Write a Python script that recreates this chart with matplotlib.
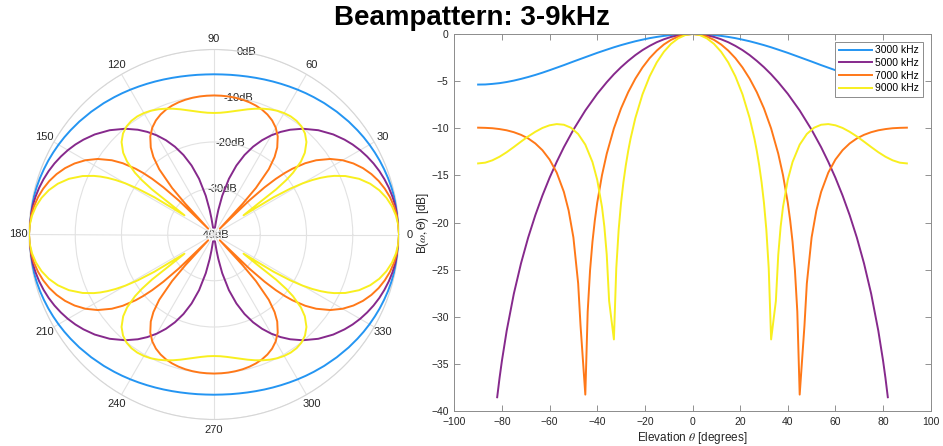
import numpy as np
import matplotlib.pyplot as plt

plt.rcParams['font.family'] = ['Liberation Sans', 'DejaVu Sans']
plt.rcParams['mathtext.fontset'] = 'stix'

# Beam response B(w, theta) in dB over elevation 0..90 deg (pattern is symmetric in theta).
# Points under the -40 dB floor are not stored.
elev3k = [0, 3, 6, 9, 12, 15, 18, 21, 24, 27, 30, 33, 36, 40, 45, 50, 54, 57,
          60, 63, 66, 69, 72, 75, 78, 81, 84, 87, 90]
db3k = [0.00, -0.01, -0.05, -0.11, -0.20, -0.31, -0.44, -0.60, -0.77, -0.97,
        -1.18, -1.41, -1.66, -2.00, -2.46, -2.92, -3.30, -3.57, -3.84, -4.10,
        -4.34, -4.56, -4.76, -4.94, -5.09, -5.21, -5.29, -5.35, -5.36]

elev5k = [0, 3, 6, 9, 12, 15, 18, 21, 24, 27, 30, 33, 36, 40, 45, 50, 54, 57,
          60, 63, 66, 69, 72, 75, 78, 80, 81, 82]
db5k = [0.00, -0.03, -0.14, -0.31, -0.56, -0.87, -1.26, -1.71, -2.24, -2.85,
        -3.52, -4.27, -5.11, -6.34, -8.11, -10.15, -12.00, -13.55, -15.24,
        -17.12, -19.22, -21.59, -24.32, -27.53, -31.45, -34.63, -36.46, -38.51]

elev7k = [0, 3, 6, 9, 12, 15, 18, 21, 24, 27, 30, 33, 36, 38, 40, 41, 42, 43,
          44, 45, 47, 48, 50, 52, 54, 57, 60, 63, 66, 69, 72, 75, 78, 81, 84,
          87, 90]
db7k = [0.00, -0.07, -0.27, -0.62, -1.11, -1.76, -2.56, -3.55, -4.74, -6.17,
        -7.89, -10.01, -12.69, -14.97, -17.89, -19.75, -22.03, -25.03, -29.43,
        -38.23, -30.92, -26.45, -21.57, -18.71, -16.74, -14.70, -13.31, -12.32,
        -11.60, -11.07, -10.69, -10.41, -10.21, -10.08, -9.99, -9.95, -9.93]

elev9k = [0, 3, 6, 9, 12, 15, 18, 21, 24, 26, 27, 28, 29, 30, 31, 32, 33, 35,
          36, 37, 38, 40, 42, 45, 48, 51, 54, 57, 60, 63, 66, 69, 72, 75, 78,
          81, 84, 87, 90]
db9k = [0.00, -0.11, -0.46, -1.04, -1.88, -3.01, -4.49, -6.40, -8.92, -11.09,
        -12.40, -13.92, -15.71, -17.90, -20.75, -24.84, -32.38, -28.31, -23.41,
        -20.43, -18.33, -15.46, -13.57, -11.73, -10.60, -9.94, -9.62, -9.55,
        -9.68, -9.96, -10.37, -10.86, -11.41, -11.98, -12.53, -13.01, -13.39,
        -13.64, -13.72]

labels = ['3000 kHz', '5000 kHz', '7000 kHz', '9000 kHz']
colors = ['#2495f2', '#86298c', '#ff7818', '#f8ef1f']
series = [(elev3k, db3k), (elev5k, db5k), (elev7k, db7k), (elev9k, db9k)]

r_ticks = [-40, -30, -20, -10, 0]
r_labels = ['-40dB', '-30dB', '-20dB', '-10dB', '0dB']


def full_elevation(e, b):
    # mirror the 0..90 half onto -90..90
    x = [-a for a in e[:0:-1]] + list(e)
    y = list(b[:0:-1]) + list(b)
    return np.array(x), np.array(y)


def full_circle(e, b):
    # response only depends on sin(angle), so one quadrant gives all four
    e = list(e)
    b = list(b)
    phi = e + [180 - a for a in e[::-1]] + [180 + a for a in e] + [360 - a for a in e[::-1]]
    r = b + b[::-1] + b + b[::-1]
    return np.deg2rad(phi), np.array(r)


fig = plt.figure(figsize=(9.43, 4.46), dpi=100)
fig.text(0.5, 1 - 18 / 446, 'Beampattern: 3-9kHz', ha='center', va='center',
         fontsize=20, fontweight='bold')

text_col = '#262626'
grid_col = '#e2e2e2'

# polar view
axp = fig.add_axes([29 / 943, 26.5 / 446, 370 / 943, 370 / 446], projection='polar')
axp.set_theta_zero_location('E')
axp.set_rlim(-40, 0)
axp.set_rticks(r_ticks)
axp.set_yticklabels([])
axp.set_thetagrids(np.arange(0, 360, 30), labels=[str(a) for a in range(0, 360, 30)])
axp.tick_params(axis='x', labelsize=8, colors=text_col, pad=-3)
axp.grid(True, color=grid_col, linewidth=0.8)
axp.spines['polar'].set_color('#d6d6d6')
axp.spines['polar'].set_linewidth(0.8)
for r, lab in zip(r_ticks, r_labels):
    axp.text(np.deg2rad(80), r, lab, ha='center', va='center', fontsize=8,
             color=text_col, zorder=1)
for (e, b), c in zip(series, colors):
    phi, r = full_circle(e, b)
    axp.plot(phi, r, color=c, linewidth=1.4, zorder=3)

# cartesian view
ax = fig.add_axes([454.3 / 943, 34.7 / 446, 476.4 / 943, 377.3 / 446])
for (e, b), c, lab in zip(series, colors, labels):
    x, y = full_elevation(e, b)
    ax.plot(x, y, color=c, linewidth=1.4, label=lab)
ax.set_xlim(-100, 100)
ax.set_ylim(-40, 0)
ax.set_xticks(np.arange(-100, 101, 20))
ax.set_yticks(np.arange(-40, 1, 5))
ax.tick_params(direction='in', top=True, right=True, length=4, width=0.6,
               labelsize=7.5, labelcolor=text_col, color='#808080', pad=4)
for s in ax.spines.values():
    s.set_color('#8c8c8c')
    s.set_linewidth(0.7)
ax.set_xlabel(r'Elevation $\theta$ [degrees]', fontsize=8.5, color=text_col, labelpad=2)
ax.set_ylabel(r'B($\omega,\Theta$) [dB]', fontsize=8.5, color=text_col, labelpad=0)
leg = ax.legend(loc='upper right', fontsize=7.5, handlelength=3.2, handletextpad=0.3,
                borderpad=0.35, labelspacing=0.25, borderaxespad=0.75, fancybox=False,
                framealpha=1)
leg.get_frame().set_edgecolor('#8c8c8c')
leg.get_frame().set_linewidth(0.7)

fig.savefig('out.png', dpi=100)
